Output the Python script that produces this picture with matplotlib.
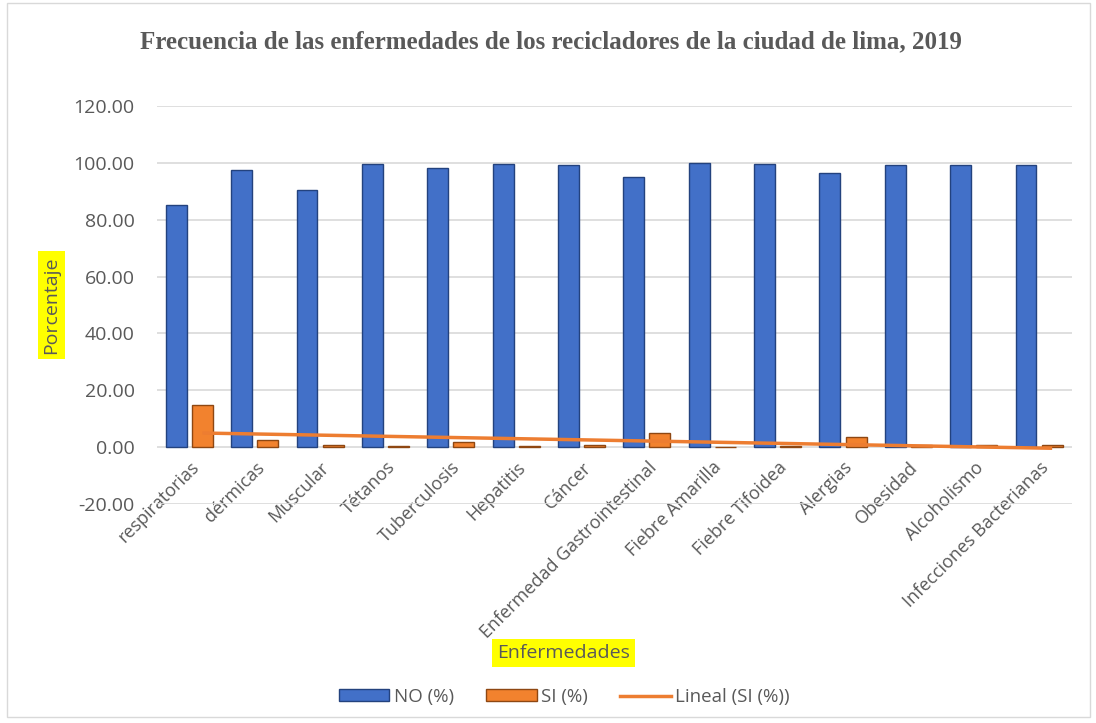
import numpy as np
import matplotlib

matplotlib.use("Agg")
import matplotlib.pyplot as plt
from matplotlib.patches import Patch, Rectangle
from matplotlib.lines import Line2D

# datos
categorias = [
    "respiratorias", "dérmicas", "Muscular", "Tétanos", "Tuberculosis",
    "Hepatitis", "Cáncer", "Enfermedad Gastrointestinal", "Fiebre Amarilla",
    "Fiebre Tifoidea", "Alergias", "Obesidad", "Alcoholismo",
    "Infecciones Bacterianas",
]
no_pct = [85.2, 97.5, 90.3, 99.7, 98.2, 99.7, 99.3, 95.1, 100.0, 99.7, 96.5, 99.3, 99.3, 99.3]
si_pct = [15.0, 2.5, 0.7, 0.3, 1.8, 0.3, 0.7, 4.8, 0.0, 0.3, 3.5, 0.7, 0.7, 0.7]
y_ticks = [-20, 0, 20, 40, 60, 80, 100, 120]

plt.rcParams["font.family"] = ["Open Sans", "DejaVu Sans"]
GRIS = "#595959"
AZUL, AZUL_BORDE = "#4270C8", "#23427E"
NARANJA, NARANJA_BORDE = "#F2822E", "#8E4712"

fig = plt.figure(figsize=(10.96, 7.23), dpi=100)
ax = fig.add_axes([0.1432, 0.3029, 0.835, 0.5505])

x = np.arange(len(categorias))
w = 0.32
ax.bar(x - 0.205, no_pct, width=w, color=AZUL, edgecolor=AZUL_BORDE, linewidth=1.0, zorder=3)
ax.bar(x + 0.195, si_pct, width=w, color=NARANJA, edgecolor=NARANJA_BORDE, linewidth=1.0, zorder=3)

# tendencia lineal de SI
coef = np.polyfit(x + 1, si_pct, 1)
ax.plot(x + 0.195, np.polyval(coef, x + 1), color="#ED7D31", linewidth=2.5, zorder=4,
        solid_capstyle="butt")

ax.set_ylim(-20, 120)
ax.set_xlim(-0.5, len(categorias) - 0.5)
ax.set_yticks(y_ticks)
ax.set_yticklabels([f"{v:.2f}" for v in y_ticks], fontsize=14, color=GRIS)
ax.yaxis.grid(True, color="#D9D9D9", linewidth=1.2, zorder=0)
ax.set_axisbelow(True)
for s in ["top", "right", "left"]:
    ax.spines[s].set_visible(False)
ax.spines["bottom"].set_position(("data", 0))
ax.spines["bottom"].set_visible(False)
ax.tick_params(axis="both", length=0)
ax.tick_params(axis="y", pad=16)
ax.set_xticks(x)
ax.set_xticklabels(categorias, rotation=45, ha="right", rotation_mode="anchor",
                   fontsize=13, color=GRIS)
ax.tick_params(axis="x", pad=8)

fig.text(0.503, 0.942, "Frecuencia de las enfermedades de los recicladores de la ciudad de lima, 2019",
         ha="center", va="center", fontsize=18, fontweight="bold",
         family="Liberation Serif", color=GRIS)

fig.text(0.047, 0.578, "Porcentaje", rotation=90, ha="center", va="center", fontsize=14,
         color=GRIS, bbox=dict(facecolor="#FFFF00", edgecolor="none", pad=3.5))
fig.text(0.514, 0.097, "Enfermedades", ha="center", va="center", fontsize=14,
         color=GRIS, bbox=dict(facecolor="#FFFF00", edgecolor="none", pad=3.5))

handles = [
    Patch(facecolor=AZUL, edgecolor=AZUL_BORDE, label="NO (%)"),
    Patch(facecolor=NARANJA, edgecolor=NARANJA_BORDE, label="SI (%)"),
    Line2D([0], [0], color="#ED7D31", linewidth=2.5, label="Lineal (SI (%))"),
]
leg = fig.legend(handles=handles, loc="center", bbox_to_anchor=(0.515, 0.036), ncol=3,
                 frameon=False, fontsize=13.5, handlelength=2.7, handleheight=0.6,
                 columnspacing=1.7, handletextpad=0.25)
for t in leg.get_texts():
    t.set_color(GRIS)

fig.patches.append(Rectangle((0.0064, 0.008), 0.988, 0.988, transform=fig.transFigure,
                             fill=False, edgecolor="#D9D9D9", linewidth=1))

fig.savefig("out.png", dpi=100)
